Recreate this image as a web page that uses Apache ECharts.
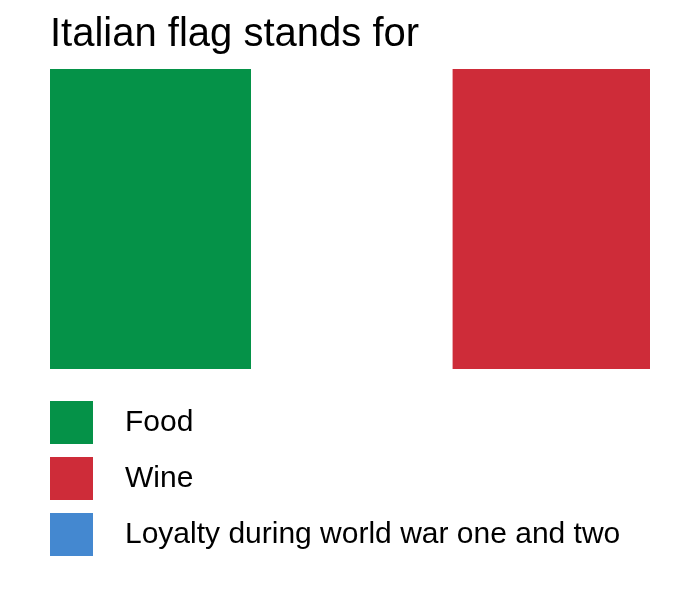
<!DOCTYPE html>
<html>
<head>
<meta charset="utf-8">
<style>html,body{margin:0;padding:0;background:#fff}#c{width:700px;height:600px}</style>
<script src="https://cdn.jsdelivr.net/npm/echarts@6/dist/echarts.min.js"></script>
</head>
<body>
<div id="c"></div>
<script>
const titleText = 'Italian flag stands for';
const categories = ['Italy'];
const foodValues = [33.5];
const whiteBandValues = [33.6];
const loyaltyValues = [0];
const wineValues = [32.9];
const legendOrder = ['Food', 'Wine', 'Loyalty during world war one and two'];
const FONT = '"Liberation Sans", Arial, sans-serif';
const legendStyle = {fontFamily: FONT, fontSize: 30, color: '#000'};
const chart = echarts.init(document.getElementById('c'), null, {renderer: 'canvas'});
chart.setOption({
  animation: false,
  backgroundColor: '#ffffff',
  title: {text: titleText, left: 50, top: 15, padding: 0,
    textStyle: {fontFamily: FONT, fontSize: 40, fontWeight: 'normal', color: '#000'}},
  grid: {left: 50, right: 50, top: 69, bottom: 231},
  xAxis: {type: 'value', min: 0, max: 100, show: false},
  yAxis: {type: 'category', data: categories, show: false},
  legend: {
    data: [
      {name: legendOrder[0], textStyle: Object.assign({padding: [0, 0, 8, 27]}, legendStyle)},
      {name: legendOrder[1], textStyle: Object.assign({padding: [2, 0, 0, 27]}, legendStyle)},
      {name: legendOrder[2], textStyle: Object.assign({padding: [0, 0, 0, 27]}, legendStyle)}
    ],
    orient: 'vertical', left: 50, top: 401, padding: 0,
    itemWidth: 43, itemHeight: 43, itemGap: 13, icon: 'rect',
    textStyle: legendStyle
  },
  series: [
    {name: 'Food', type: 'bar', stack: 'flag', data: foodValues, barCategoryGap: 0, itemStyle: {color: '#059248'}},
    {name: 'White band', type: 'bar', stack: 'flag', data: whiteBandValues, itemStyle: {color: '#ffffff'}},
    {name: legendOrder[2], type: 'bar', stack: 'flag', data: loyaltyValues, itemStyle: {color: '#4488d0'}},
    {name: 'Wine', type: 'bar', stack: 'flag', data: wineValues, itemStyle: {color: '#ce2c39'}}
  ]
});
</script>
</body>
</html>
